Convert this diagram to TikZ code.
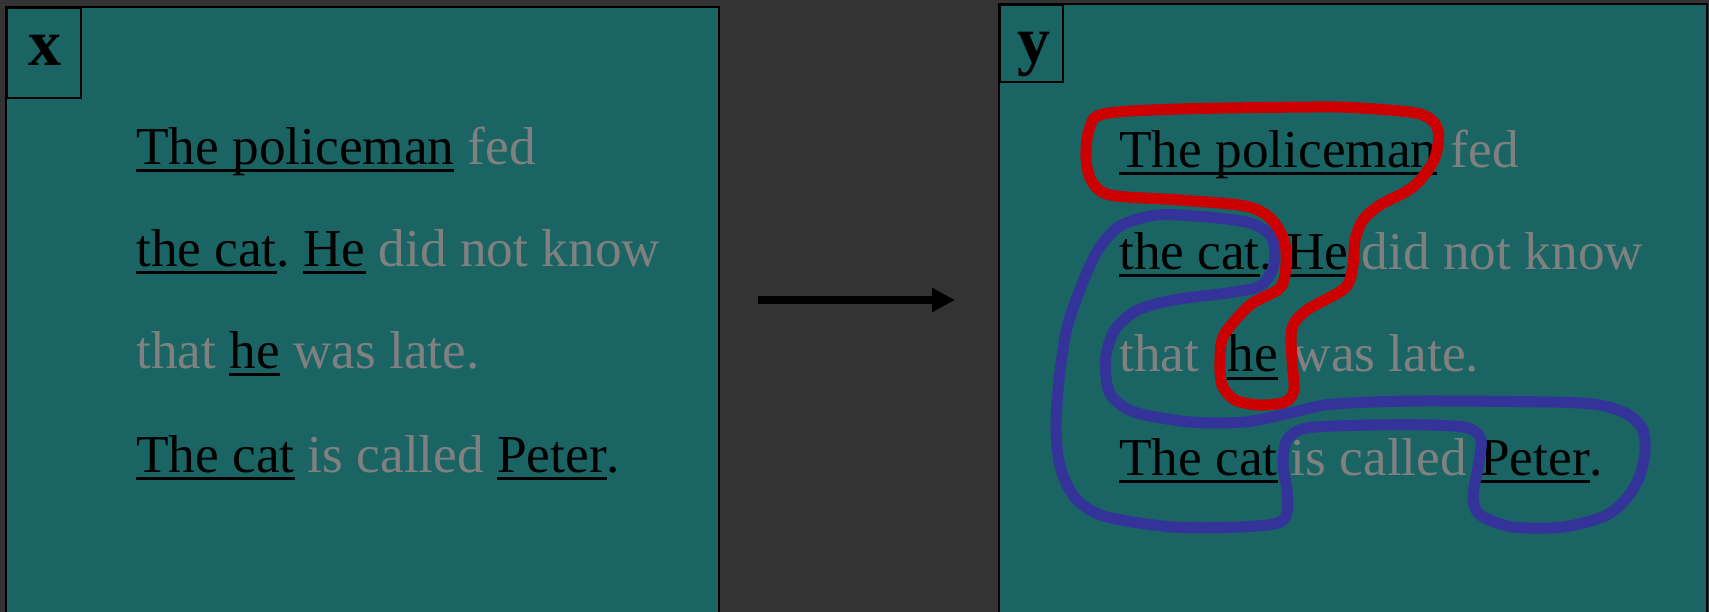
\documentclass[tikz,border=0pt]{standalone}
\usepackage{fontspec}
\setmainfont{Liberation Serif}
\usetikzlibrary{arrows.meta}
\frenchspacing

\definecolor{bg}{HTML}{333333}
\definecolor{panel}{HTML}{1A6464}
\definecolor{mutegray}{HTML}{808080}
\definecolor{chainred}{HTML}{CC0000}
\definecolor{chainblue}{HTML}{333399}

% underlined mention: rule drawn just below the baseline, across the descenders
\newsavebox\mentionbox
\newcommand\mention[1]{\sbox\mentionbox{#1}\rlap{\vrule height -4.5pt depth 7.5pt width \wd\mentionbox}\usebox\mentionbox}
\newcommand\plain[1]{\textcolor{mutegray}{#1}}

\tikzset{
  panelbox/.style={fill=panel, draw=black, line width=1.6pt},
  labbox/.style={draw=black, line width=1.6pt, inner sep=0pt, anchor=north west},
  lab/.style={inner sep=0pt, anchor=base, font=\fontsize{66}{70}\selectfont\bfseries},
  sent/.style={inner sep=0pt, anchor=base west, font=\fontsize{53.3}{60}\selectfont},
  chain/.style={line width=11pt, line join=round},
}

\begin{document}
\begin{tikzpicture}[x=1pt, y=-1pt]
\useasboundingbox (0,0) rectangle (1709,612);
\clip (0,0) rectangle (1709,612);
\fill[bg] (0,0) rectangle (1709,612);

% input panel
\draw[panelbox] (6,7) rectangle (719,660);
\node[labbox, minimum width=74pt, minimum height=90pt] (xbox) at (6,7) {};
\node[lab] (xl) at (44.5,66) {x};
\node[sent] (x1) at (136,165) {\mention{The policeman} \plain{fed}};
\node[sent] (x2) at (136,267) {\mention{the cat}. \mention{He} \plain{did not know}};
\node[sent] (x3) at (136,369) {\plain{that} \mention{he} \plain{was late.}};
\node[sent] (x4) at (136,472) {\mention{The cat} \plain{is called} \mention{Peter}.};

% arrow between the panels
\coordinate (a0) at (758,300);
\coordinate (a1) at (955,300);
\draw[line width=8pt, -{Triangle[length=23pt,width=23pt]}] (a0) -- (a1);

% output panel
\draw[panelbox] (999,4) rectangle (1707,660);
\node[labbox, minimum width=63pt, minimum height=77pt] (ybox) at (999,4) {};
\node[lab] (yl) at (1034,63) {y};
\node[sent] (y1) at (1119,168) {\mention{The policeman} \plain{fed}};
\node[sent] (y2) at (1119,270) {\mention{the cat}. \mention{He} \plain{did not know}};
\node[sent] (y3) at (1119,372) {\plain{that}\hspace{15pt} \mention{he}\hspace{1.5pt} \plain{was late.}};
\node[sent] (y4) at (1119,475) {\mention{The cat} \plain{is called} \mention{Peter}.};

% coreference chain: the cat
\draw[chain, chainblue] plot[smooth cycle, tension=0.5] coordinates {
  (1157,215) (1207,217) (1250,223) (1270,235) (1275,253) (1271,273)
  (1258,287) (1227,293) (1173,300) (1138,310) (1116,328) (1106,355)
  (1107,385) (1115,400) (1137,413) (1190,422) (1245,422) (1290,413)
  (1325,405) (1373,402) (1440,401) (1580,403) (1623,412) (1642,428)
  (1645,452) (1639,478) (1625,500) (1605,516) (1563,527) (1513,527)
  (1480,515) (1473,497) (1478,467) (1481,440) (1468,428) (1430,425)
  (1373,425) (1307,428) (1287,440) (1283,465) (1287,490) (1287,512)
  (1278,523) (1240,527) (1173,527) (1107,517) (1077,500) (1061,470)
  (1056,430) (1059,380) (1067,328) (1081,287) (1098,250) (1120,226)
};

% coreference chain: the policeman
\draw[chain, chainred] plot[smooth cycle, tension=0.5] coordinates {
  (1086,157) (1089,130) (1103,114) (1180,109) (1313,107) (1360,108)
  (1420,114) (1438,130) (1434,160) (1413,187) (1380,205) (1363,220)
  (1355,240) (1353,265) (1345,288) (1307,310) (1292,328) (1292,360)
  (1294,390) (1285,402) (1260,405) (1235,400) (1222,385) (1220,360)
  (1224,335) (1250,305) (1280,288) (1286,265) (1284,240) (1270,218)
  (1245,206) (1180,200) (1110,195) (1091,180)
};
\end{tikzpicture}
\end{document}
